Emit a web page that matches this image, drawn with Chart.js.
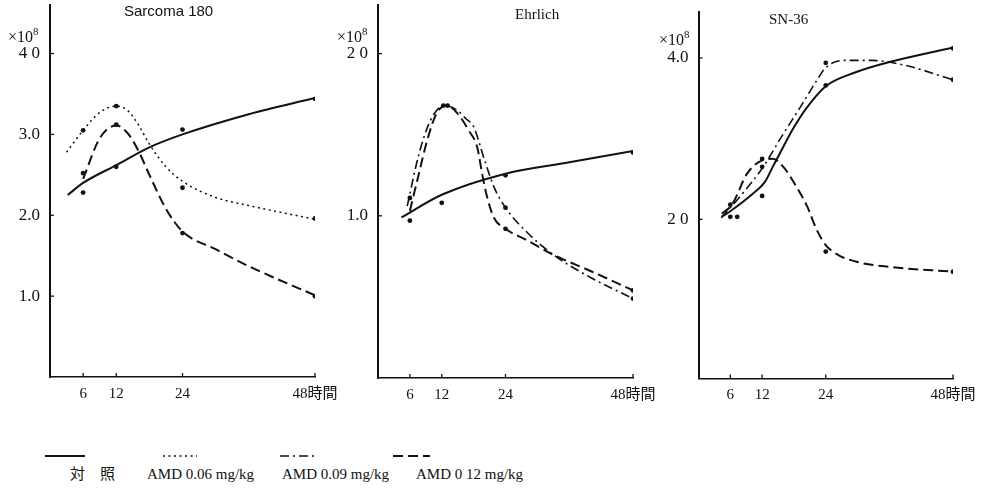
<!DOCTYPE html>
<html><head><meta charset="utf-8">
<script src="https://cdn.jsdelivr.net/npm/chart.js@4/dist/chart.umd.min.js"></script>
<style>
body{margin:0;background:#fff;width:983px;height:488px;position:relative;overflow:hidden;font-family:"Liberation Serif","Noto Sans CJK JP",serif;color:#111}
canvas{position:absolute}
.t{position:absolute;white-space:nowrap;line-height:1}
sup{font-size:68%;vertical-align:top;position:relative;top:-3px}
</style></head><body>
<canvas id="c1" width="345" height="410" style="left:0;top:0"></canvas>
<canvas id="c2" width="330" height="410" style="left:330px;top:0"></canvas>
<canvas id="c3" width="333" height="410" style="left:650px;top:0"></canvas>

<div class="t" id="t1" style="left:124px;top:3px;font-family:'Liberation Sans',sans-serif;font-size:15px"></div>
<div class="t" id="t2" style="left:515px;top:7px;font-size:15px"></div>
<div class="t" id="t3" style="left:769px;top:12px;font-size:15px"></div>
<div class="t" style="left:8px;top:29px;font-size:16px">×10<sup>8</sup></div>
<div class="t" style="left:337px;top:29px;font-size:16px">×10<sup>8</sup></div>
<div class="t" style="left:659px;top:32px;font-size:16px">×10<sup>8</sup></div>

<div id="legend"></div>

<script>
// ---- shared ----
const HOURS_TICKS = [6, 12, 24, 48];
const X_TICK_LABELS = ['6', '12', '24', '48時間'];
const TITLES = ['Sarcoma 180', 'Ehrlich', 'SN-36'];
const LEGEND_LABELS = ['対\u3000照', 'AMD 0.06 mg/kg', 'AMD 0.09 mg/kg', 'AMD 0 12 mg/kg'];

// ---- Sarcoma 180 ----
const s180_yTicks = [1, 2, 3, 4];
const s180_yLabels = ['1.0', '2.0', '3.0', '4 0'];
const s180_ctrl_h = [3.2, 6, 12, 18, 24, 36, 48];
const s180_ctrl_v = [2.25, 2.40, 2.62, 2.84, 3.0, 3.25, 3.45];
const s180_low_h = [3, 6, 9, 12, 14, 16, 18, 21, 24, 30, 36, 48];
const s180_low_v = [2.78, 3.05, 3.27, 3.35, 3.3, 3.12, 2.88, 2.6, 2.42, 2.22, 2.12, 1.95];
const s180_high_h = [6, 9, 12, 14, 16, 18, 21, 24, 30, 36, 48];
const s180_high_v = [2.45, 2.95, 3.11, 3.02, 2.8, 2.5, 2.08, 1.8, 1.58, 1.37, 1.01];
const s180_pt_h = [6, 12, 24, 48];
const s180_ctrl_pts = [2.28, 2.6, 3.06, 3.44];
const s180_low_pts = [3.05, 3.35, 2.34, 1.96];
const s180_high_pts = [2.52, 3.12, 1.78, 1.0];

// ---- Ehrlich ----
const ehr_yTicks = [1, 2];
const ehr_yLabels = ['1.0', '2 0'];
const ehr_ctrl_h = [4.4, 12, 24, 36, 48];
const ehr_ctrl_v = [0.99, 1.13, 1.26, 1.33, 1.40];
const ehr_mid_h = [5.5, 7.7, 9.9, 12.5, 15, 16.5, 18, 19.9, 21.8, 24, 28, 33, 40, 48];
const ehr_mid_v = [1.06, 1.38, 1.59, 1.68, 1.65, 1.6, 1.55, 1.36, 1.18, 1.05, 0.9, 0.76, 0.62, 0.49];
const ehr_high_h = [6, 7.4, 9.3, 11, 13, 15, 17, 18.7, 19.6, 20.5, 21.8, 24, 28, 33, 40, 48];
const ehr_high_v = [1.03, 1.22, 1.47, 1.63, 1.68, 1.63, 1.53, 1.42, 1.26, 1.12, 0.99, 0.92, 0.85, 0.76, 0.66, 0.54];
const ehr_ctrl_pt_h = [6, 12, 24, 48];
const ehr_ctrl_pts = [0.97, 1.08, 1.25, 1.39];
const ehr_mid_pt_h = [6, 12.3, 24, 48];
const ehr_mid_pts = [1.11, 1.68, 1.05, 0.49];
const ehr_high_pt_h = [13.1, 24, 48];
const ehr_high_pts = [1.68, 0.92, 0.54];

// ---- SN-36 ----
const sn_yTicks = [2, 4];
const sn_yLabels = ['2 0', '4.0'];
const sn_ctrl_h = [4.3, 6, 10.3, 12.5, 14, 16, 18, 20.5, 24, 29.5, 36, 48];
const sn_ctrl_v = [2.03, 2.1, 2.32, 2.46, 2.65, 2.9, 3.14, 3.39, 3.65, 3.82, 3.95, 4.13];
const sn_mid_h = [4.3, 7.8, 12, 16, 19.2, 22.3, 24, 27.5, 32.6, 38.9, 48];
const sn_mid_v = [2.02, 2.28, 2.63, 3.06, 3.39, 3.72, 3.88, 3.97, 3.97, 3.91, 3.73];
const sn_high_h = [4.4, 6.3, 9.2, 12, 14, 16, 18.5, 20.5, 22.3, 24, 26.3, 30, 36, 48];
const sn_high_v = [2.07, 2.18, 2.57, 2.73, 2.75, 2.65, 2.4, 2.16, 1.87, 1.68, 1.56, 1.47, 1.41, 1.35];
const sn_ctrl_pt_h = [6, 12, 24, 48];
const sn_ctrl_pts = [2.03, 2.29, 3.66, 4.12];
const sn_mid_pt_h = [6, 12, 24, 48];
const sn_mid_pts = [2.18, 2.65, 3.94, 3.73];
const sn_high_pt_h = [7.3, 12, 24, 48];
const sn_high_pts = [2.03, 2.75, 1.6, 1.35];

// ---- styles ----
const INK = '#111';
const STYLE = {
  ctrl: {dash: [], w: 2},
  low:  {dash: [2, 3.5], w: 1.5},
  mid:  {dash: [9, 4, 2, 4], w: 1.6},
  high: {dash: [10, 5], w: 2}
};
const FONT = '"Liberation Serif","Noto Sans CJK JP",serif';

document.getElementById('t1').textContent = TITLES[0];
document.getElementById('t2').textContent = TITLES[1];
document.getElementById('t3').textContent = TITLES[2];

const xy = (h, v) => h.map((x, i) => ({x, y: v[i]}));

const inTicks = {
  id: 'inTicks',
  afterDraw(chart) {
    const {ctx, chartArea: a, scales: {x, y}} = chart;
    ctx.save();
    ctx.strokeStyle = INK; ctx.lineWidth = 1.3;
    x.ticks.forEach(t => { const p = x.getPixelForValue(t.value); ctx.beginPath(); ctx.moveTo(p, a.bottom); ctx.lineTo(p, a.bottom - 4); ctx.stroke(); });
    y.ticks.forEach(t => { const p = y.getPixelForValue(t.value); ctx.beginPath(); ctx.moveTo(a.left, p); ctx.lineTo(a.left + 4, p); ctx.stroke(); });
    ctx.restore();
  }
};

const noPad = s => { s.paddingTop = 0; s.paddingBottom = 0; s.paddingLeft = 0; s.paddingRight = 0; };

function panel(id, o) {
  const ds = [];
  o.curves.forEach(c => ds.push({
    type: 'line', data: xy(c.h, c.v), borderColor: INK, borderWidth: STYLE[c.s].w,
    borderDash: STYLE[c.s].dash, pointRadius: 0, fill: false,
    cubicInterpolationMode: 'monotone', borderCapStyle: 'butt'
  }));
  o.points.forEach(p => ds.push({
    type: 'line', data: xy(p.h, p.v), showLine: false, pointRadius: 2.4,
    pointBackgroundColor: INK, pointBorderWidth: 0
  }));
  new Chart(document.getElementById(id), {
    type: 'line',
    data: {datasets: ds},
    options: {
      responsive: false, animation: false, devicePixelRatio: 1, events: [],
      layout: {padding: {top: o.top, right: o.right, left: 0, bottom: 0}},
      plugins: {legend: {display: false}, tooltip: {enabled: false}},
      scales: {
        x: {
          type: 'linear', min: 0, max: 48,
          afterBuildTicks: s => { s.ticks = HOURS_TICKS.map(v => ({value: v})); },
          afterFit: s => { s.height = o.xh; noPad(s); },
          grid: {display: false, drawTicks: false},
          border: {display: true, color: INK, width: 1.5},
          ticks: {padding: 8, color: INK, autoSkip: false, maxRotation: 0,
                  font: {family: FONT, size: 15},
                  callback: (v, i) => X_TICK_LABELS[i]}
        },
        y: {
          type: 'linear', min: o.ymin, max: o.ymax,
          afterBuildTicks: s => { s.ticks = o.yTicks.map(v => ({value: v})); },
          afterFit: s => { s.width = o.yw; noPad(s); },
          grid: {display: false, drawTicks: false},
          border: {display: true, color: INK, width: 2},
          ticks: {padding: 10, color: INK, font: {family: FONT, size: 17},
                  callback: (v, i) => o.yLabels[i]}
        }
      }
    },
    plugins: [inTicks]
  });
}

panel('c1', {
  top: 5, right: 30, xh: 33, yw: 50, ymin: 0, ymax: 4.6,
  yTicks: s180_yTicks, yLabels: s180_yLabels,
  curves: [
    {h: s180_ctrl_h, v: s180_ctrl_v, s: 'ctrl'},
    {h: s180_low_h, v: s180_low_v, s: 'low'},
    {h: s180_high_h, v: s180_high_v, s: 'high'}
  ],
  points: [
    {h: s180_pt_h, v: s180_ctrl_pts},
    {h: s180_pt_h, v: s180_low_pts},
    {h: s180_pt_h, v: s180_high_pts}
  ]
});

panel('c2', {
  top: 5, right: 27, xh: 32, yw: 48, ymin: 0, ymax: 2.3,
  yTicks: ehr_yTicks, yLabels: ehr_yLabels,
  curves: [
    {h: ehr_ctrl_h, v: ehr_ctrl_v, s: 'ctrl'},
    {h: ehr_mid_h, v: ehr_mid_v, s: 'mid'},
    {h: ehr_high_h, v: ehr_high_v, s: 'high'}
  ],
  points: [
    {h: ehr_ctrl_pt_h, v: ehr_ctrl_pts},
    {h: ehr_mid_pt_h, v: ehr_mid_pts},
    {h: ehr_high_pt_h, v: ehr_high_pts}
  ]
});

panel('c3', {
  top: 12, right: 30, xh: 31.5, yw: 48.5, ymin: 0.026, ymax: 4.57,
  yTicks: sn_yTicks, yLabels: sn_yLabels,
  curves: [
    {h: sn_ctrl_h, v: sn_ctrl_v, s: 'ctrl'},
    {h: sn_mid_h, v: sn_mid_v, s: 'mid'},
    {h: sn_high_h, v: sn_high_v, s: 'high'}
  ],
  points: [
    {h: sn_ctrl_pt_h, v: sn_ctrl_pts},
    {h: sn_mid_pt_h, v: sn_mid_pts},
    {h: sn_high_pt_h, v: sn_high_pts}
  ]
});

// ---- legend (HTML + SVG samples) ----
const legendItems = [
  {s: 'ctrl', lx: 45, lw: 40, tx: 70},
  {s: 'low',  lx: 163, lw: 34, tx: 147},
  {s: 'mid',  lx: 280, lw: 38, tx: 282},
  {s: 'high', lx: 393, lw: 37, tx: 416}
];
const leg = document.getElementById('legend');
legendItems.forEach((it, i) => {
  const st = STYLE[it.s];
  const svg = document.createElementNS('http://www.w3.org/2000/svg', 'svg');
  svg.setAttribute('width', it.lw); svg.setAttribute('height', 6);
  svg.style.position = 'absolute'; svg.style.left = it.lx + 'px'; svg.style.top = '453px';
  const ln = document.createElementNS('http://www.w3.org/2000/svg', 'line');
  ln.setAttribute('x1', 0); ln.setAttribute('x2', it.lw); ln.setAttribute('y1', 3); ln.setAttribute('y2', 3);
  ln.setAttribute('stroke', INK); ln.setAttribute('stroke-width', st.w);
  if (st.dash.length) ln.setAttribute('stroke-dasharray', st.dash.join(' '));
  svg.appendChild(ln); leg.appendChild(svg);
  const d = document.createElement('div');
  d.className = 't'; d.style.left = it.tx + 'px'; d.style.top = '467px'; d.style.fontSize = '15px';
  d.textContent = LEGEND_LABELS[i];
  leg.appendChild(d);
});
</script>
</body></html>
